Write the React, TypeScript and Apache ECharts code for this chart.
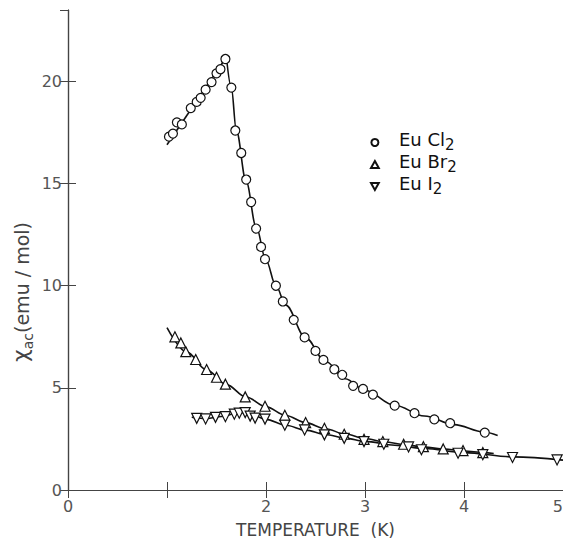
import React, { useEffect, useRef } from "react";
import * as echarts from "echarts";

// EuCl2 measured points
const clT = [1.02, 1.06, 1.10, 1.15, 1.24, 1.30, 1.34, 1.39, 1.45, 1.50, 1.54, 1.59, 1.65, 1.69, 1.75, 1.80, 1.85, 1.90, 1.95, 1.99, 2.10, 2.17, 2.28, 2.39, 2.50, 2.58, 2.69, 2.77, 2.88, 2.98, 3.08, 3.30, 3.50, 3.70, 3.86, 4.21];
const clChi = [17.3, 17.45, 18.0, 17.9, 18.7, 19.0, 19.2, 19.6, 19.97, 20.4, 20.6, 21.1, 19.7, 17.6, 16.5, 15.2, 14.1, 12.8, 11.9, 11.3, 10.0, 9.23, 8.33, 7.47, 6.81, 6.37, 5.91, 5.64, 5.10, 4.95, 4.67, 4.13, 3.76, 3.46, 3.27, 2.81];
// EuCl2 fitted curve (two branches)
const clFitLowT = [1.0, 1.6];
const clFitLowChi = [16.9, 21.2];
const clFitHighT = [1.6, 1.65, 1.7, 1.8, 1.9, 2.0, 2.1, 2.2, 2.4, 2.6, 2.8, 3.0, 3.3, 3.6, 3.9, 4.2, 4.34];
const clFitHighChi = [21.2, 19.7, 17.6, 15.1, 12.9, 11.25, 10.0, 9.05, 7.45, 6.3, 5.45, 4.88, 4.15, 3.62, 3.2, 2.84, 2.67];

// EuBr2 measured points
const brT = [1.08, 1.14, 1.19, 1.29, 1.40, 1.50, 1.59, 1.79, 1.99, 2.19, 2.40, 2.59, 2.79, 2.99, 3.18, 3.39, 3.59, 3.79, 3.99, 4.19];
const brChi = [7.5, 7.2, 6.77, 6.39, 5.9, 5.52, 5.18, 4.56, 4.1, 3.66, 3.30, 3.02, 2.73, 2.48, 2.37, 2.24, 2.12, 2.01, 1.93, 1.83];
const brFitT = [1.0, 1.2, 1.4, 1.6, 1.8, 2.0, 2.2, 2.4, 2.6, 2.8, 3.0, 3.2, 3.4, 3.6, 3.8, 4.0, 4.2, 4.3];
const brFitChi = [7.95, 6.75, 5.88, 5.16, 4.55, 4.07, 3.65, 3.3, 3.0, 2.74, 2.52, 2.35, 2.22, 2.1, 2.0, 1.91, 1.83, 1.79];

// EuI2 measured points
const iT = [1.30, 1.39, 1.49, 1.59, 1.68, 1.73, 1.79, 1.84, 1.89, 1.99, 2.19, 2.39, 2.59, 2.79, 2.99, 3.19, 3.44, 3.57, 3.94, 4.19, 4.49, 4.94];
const iChi = [3.51, 3.48, 3.56, 3.59, 3.71, 3.76, 3.79, 3.62, 3.52, 3.47, 3.17, 2.94, 2.70, 2.53, 2.37, 2.24, 2.11, 1.97, 1.80, 1.73, 1.59, 1.47];
const iFitT = [1.25, 1.4, 1.55, 1.7, 1.78, 1.9, 2.0, 2.2, 2.4, 2.6, 2.8, 3.0, 3.3, 3.6, 4.0, 4.5, 5.0];
const iFitChi = [3.56, 3.49, 3.6, 3.75, 3.8, 3.6, 3.46, 3.17, 2.93, 2.72, 2.54, 2.38, 2.19, 2.03, 1.83, 1.62, 1.46];

const legendLabels: Record<string, string> = {
  EuCl2: "{m|Eu Cl}{s|2}",
  EuBr2: "{m|Eu Br}{s|2}",
  EuI2: "{m|Eu I}{s|2}",
};
const xTicks = [0, 1, 2, 3, 4, 5];
const yTicks = [0, 5, 10, 15, 20];

const zip = (a: number[], b: number[]) => a.map((v, i) => [v, b[i]]);
const UP_TRI = "path://M5,0 L10,9 L0,9 Z";
const DOWN_TRI = "path://M0,0 L10,0 L5,9 Z";
const INK = "#111";

export default function App() {
  const ref = useRef<HTMLDivElement>(null);
  useEffect(() => {
    if (!ref.current) return;
    const chart = echarts.init(ref.current, undefined, { renderer: "svg" });
    const font = "DejaVu Sans";
    const markerStyle = { color: "#fff", borderColor: INK, borderWidth: 1.2, opacity: 1 };
    const fitLine = (name: string, data: number[][], smooth: number) => ({
      type: "line",
      name,
      data,
      showSymbol: false,
      symbol: "none",
      smooth,
      smoothMonotone: "x",
      lineStyle: { color: INK, width: 1.6 },
      z: 2,
      silent: true,
    });
    chart.setOption({
      animation: false,
      backgroundColor: "#fff",
      grid: { left: 68, top: 10, width: 495, height: 480, outerBoundsMode: "none", containLabel: false },
      xAxis: [
        {
          type: "value",
          min: 0,
          max: 5,
          interval: 1,
          position: "bottom",
          axisLine: { lineStyle: { color: "#444", width: 1.2 } },
          axisTick: { inside: true, length: 8, lineStyle: { color: "#444" } },
          splitLine: { show: false },
          axisLabel: {
            color: "#555",
            fontFamily: font,
            fontSize: 16,
            margin: 8,
            alignMaxLabel: "right",
            formatter: (v: number) => (xTicks.includes(v) && v !== 1 ? String(v) : ""),
          },
          name: "TEMPERATURE  (K)",
          nameLocation: "middle",
          nameGap: 31,
          nameTextStyle: { color: "#444", fontFamily: font, fontSize: 17 },
        },
        {
          type: "value",
          min: 0,
          max: 5,
          interval: 1,
          position: "top",
          axisLine: { lineStyle: { color: "#444", width: 1.2 } },
          axisTick: { inside: true, length: 8, lineStyle: { color: "#444" } },
          axisLabel: { show: false },
          splitLine: { show: false },
        },
      ],
      yAxis: [
        {
          type: "value",
          min: 0,
          max: 23.5,
          interval: 5,
          position: "left",
          axisLine: { lineStyle: { color: "#444", width: 1.2 } },
          axisTick: { inside: true, length: 8, lineStyle: { color: "#444" } },
          splitLine: { show: false },
          axisLabel: {
            color: "#555",
            fontFamily: font,
            fontSize: 16,
            margin: 6,
            showMaxLabel: false,
            formatter: (v: number) => (yTicks.includes(v) ? String(v) : ""),
          },
        },
        {
          type: "value",
          min: 0,
          max: 23.5,
          interval: 5,
          position: "right",
          axisLine: { lineStyle: { color: "#444", width: 1.2 } },
          axisTick: { inside: true, length: 8, lineStyle: { color: "#444" } },
          axisLabel: { show: false },
          splitLine: { show: false },
        },
      ],
      legend: {
        data: [
          { name: "EuCl2", icon: "circle" },
          { name: "EuBr2", icon: UP_TRI },
          { name: "EuI2", icon: DOWN_TRI },
        ],
        orient: "vertical",
        left: 370,
        top: 130,
        padding: 0,
        itemWidth: 38,
        itemHeight: 7,
        itemGap: 0,
        symbolKeepAspect: true,
        selectedMode: false,
        formatter: (n: string) => legendLabels[n] || n,
        textStyle: {
          color: "#111",
          fontFamily: font,
          rich: {
            m: { fontSize: 18, lineHeight: 19, fontFamily: font, color: "#111", verticalAlign: "bottom", padding: [0, 0, 4, 0] },
            s: { fontSize: 15, lineHeight: 16, fontFamily: font, color: "#111", verticalAlign: "bottom" },
          },
        },
      },
      graphic: [
        {
          type: "text",
          x: 22,
          y: 292,
          rotation: Math.PI / 2,
          style: {
            text: "{c|χ}{s|ac}{n|(emu / mol)}",
            align: "center",
            verticalAlign: "middle",
            rich: {
              c: { fontSize: 22, fontFamily: font, fill: "#444", verticalAlign: "bottom", padding: [0, 0, 4, 0] },
              s: { fontSize: 14, fontFamily: font, fill: "#444", verticalAlign: "bottom" },
              n: { fontSize: 19, fontFamily: font, fill: "#444", verticalAlign: "bottom", padding: [0, 0, 4, 0] },
            },
          },
        },
      ],
      series: [
        fitLine("EuCl2 fit", zip(clFitLowT, clFitLowChi), 0),
        fitLine("EuCl2 fit", zip(clFitHighT, clFitHighChi), 0.35),
        fitLine("EuBr2 fit", zip(brFitT, brFitChi), 0.35),
        fitLine("EuI2 fit", zip(iFitT, iFitChi), 0.35),
        {
          type: "scatter",
          name: "EuCl2",
          data: zip(clT, clChi),
          symbol: "circle",
          symbolSize: 9,
          itemStyle: markerStyle,
          z: 3,
        },
        {
          type: "scatter",
          name: "EuBr2",
          data: zip(brT, brChi),
          symbol: UP_TRI,
          symbolSize: 10,
          itemStyle: markerStyle,
          z: 3,
        },
        {
          type: "scatter",
          name: "EuI2",
          data: zip(iT, iChi),
          symbol: DOWN_TRI,
          symbolSize: 10,
          itemStyle: markerStyle,
          z: 3,
        },
      ],
    });
    return () => chart.dispose();
  }, []);
  return (
    <div
      ref={ref}
      style={{ position: "absolute", left: 0, top: 0, width: 563, height: 538 }}
    />
  );
}
